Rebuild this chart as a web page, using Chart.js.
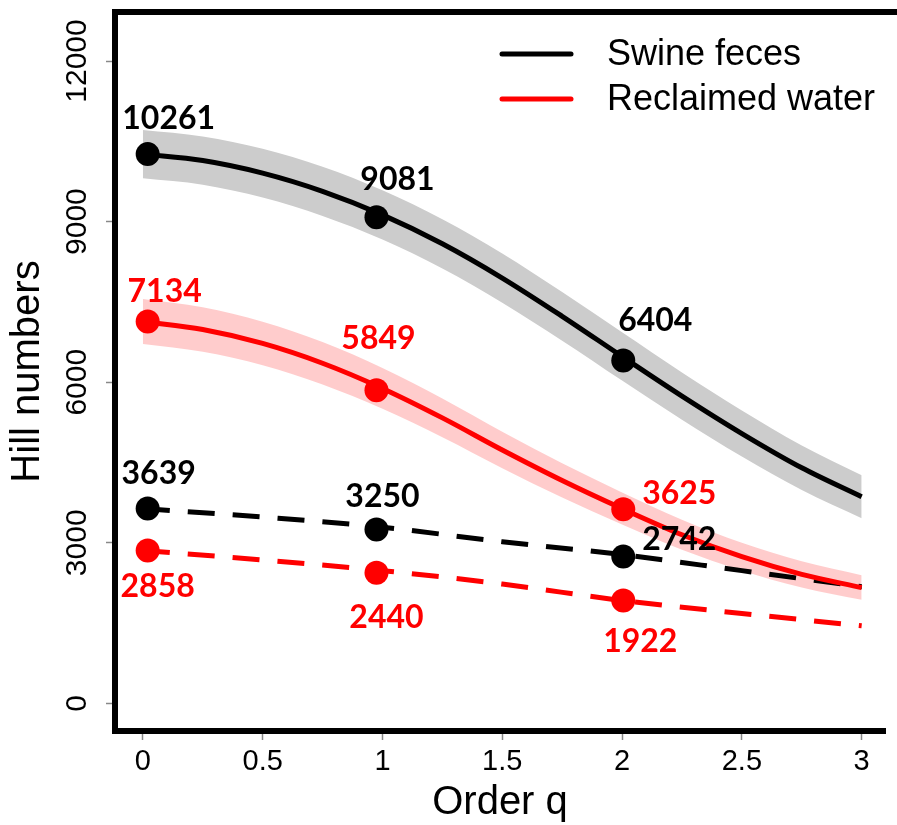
<!DOCTYPE html>
<html>
<head>
<meta charset="utf-8">
<title>Hill numbers</title>
<script src="https://cdn.jsdelivr.net/npm/chart.js@4/dist/chart.umd.min.js"></script>
<style>
	html, body { margin: 0; padding: 0; background: #fff; overflow: hidden; }
	#wrap { width: 897px; height: 825px; }
</style>
</head>
<body>
<div id="wrap"><canvas id="hill-chart" width="897" height="825"></canvas></div>
<script>
// order q grid of the estimated curves
const qGrid = [0, 0.25, 0.5, 0.75, 1, 1.25, 1.5, 1.75, 2, 2.25, 2.5, 2.75, 3]
const swineEst = [10261, 10141, 9906, 9566, 9126, 8586, 7946, 7231, 6481, 5741, 5041, 4401, 3860]
const swineUpper = [10711, 10591, 10361, 10026, 9586, 9046, 8406, 7686, 6931, 6181, 5471, 4816, 4260]
const swineLower = [9811, 9691, 9451, 9106, 8666, 8126, 7486, 6776, 6031, 5301, 4611, 3986, 3460]
const reclaimedEst = [7134, 6984, 6724, 6354, 5884, 5334, 4734, 4164, 3640, 3150, 2740, 2410, 2164]
const reclaimedUpper = [7554, 7399, 7129, 6749, 6264, 5694, 5074, 4484, 3940, 3430, 3000, 2655, 2394]
const reclaimedLower = [6714, 6569, 6319, 5959, 5504, 4974, 4394, 3844, 3340, 2870, 2480, 2165, 1934]

// observed (dashed) profiles
const qObs = [0, 0.5, 1, 1.5, 2, 2.5, 3]
const swineObsLine = [3639, 3480, 3290, 3020, 2780, 2480, 2180]
const reclaimedObsLine = [2858, 2680, 2480, 2230, 1922, 1680, 1450]

// labelled points
const pointQ = [0.02, 0.975, 2.005]
const swineEstPts = [10261, 9081, 6404]
const reclaimedEstPts = [7134, 5849, 3625]
const swineObsPts = [3639, 3250, 2742]
const reclaimedObsPts = [2858, 2440, 1922]

// axes
const xTickValues = [0, 0.5, 1, 1.5, 2, 2.5, 3]
const yTickValues = [0, 3000, 6000, 9000, 12000]
const seriesNames = ["Swine feces", "Reclaimed water"]
const xTitle = "Order q"
const yTitle = "Hill numbers"

const BLACK = "#000000"
const RED = "#ff0000"

function xy(xs, ys){
	return xs.map((x, i) => ({x: x, y: ys[i]}))
}

function band(ys, color, fill){
	return {
		type: "line",
		data: xy(qGrid, ys),
		borderWidth: 0,
		pointRadius: 0,
		backgroundColor: color,
		fill: fill,
		cubicInterpolationMode: "monotone",
		order: 10
	}
}

function curve(xs, ys, color, dash){
	return {
		type: "line",
		data: xy(xs, ys),
		borderColor: color,
		borderWidth: 5,
		borderDash: dash,
		borderCapStyle: "butt",
		pointRadius: 0,
		fill: false,
		cubicInterpolationMode: "monotone",
		order: 5
	}
}

function dots(ys, color, offsets){
	return {
		type: "scatter",
		data: xy(pointQ, ys),
		backgroundColor: color,
		borderColor: color,
		borderWidth: 0,
		pointRadius: 12,
		pointHoverRadius: 12,
		labelColor: color,
		labelOffsets: offsets,
		order: 0
	}
}

// text centre relative to each point (px)
const swineEstLabelPos = [[21, -37], [21, -39], [32, -41]]
const reclaimedEstLabelPos = [[17, -31], [2, -53], [56, -17]]
const swineObsLabelPos = [[11, -36], [6, -34], [56, -18]]
const reclaimedObsLabelPos = [[10, 35], [10, 44], [17, 40]]

const pointLabels = {
	id: "pointLabels",
	afterDatasetsDraw(chart){
		const ctx = chart.ctx
		ctx.save()
		ctx.font = "bold 32px Lato"
		ctx.textAlign = "center"
		ctx.textBaseline = "alphabetic"
		chart.data.datasets.forEach((ds, i) => {
			if(!ds.labelOffsets) return
			const meta = chart.getDatasetMeta(i)
			meta.data.forEach((el, j) => {
				const off = ds.labelOffsets[j]
				ctx.fillStyle = ds.labelColor
				ctx.fillText(String(ds.data[j].y), el.x + off[0], el.y + off[1] + 11.5)
			})
		})
		ctx.restore()
	}
}

const frameAndLegend = {
	id: "frameAndLegend",
	afterDraw(chart){
		const ctx = chart.ctx
		const area = chart.chartArea
		ctx.save()
		//top edge of the box (right edge is off the picture)
		ctx.strokeStyle = BLACK
		ctx.lineWidth = 6
		ctx.beginPath()
		ctx.moveTo(area.left - 3, area.top)
		ctx.lineTo(chart.width, area.top)
		ctx.stroke()

		//legend
		const rows = [[seriesNames[0], BLACK, 55], [seriesNames[1], RED, 100]]
		ctx.font = "36px 'Liberation Sans'"
		ctx.textBaseline = "middle"
		ctx.textAlign = "left"
		rows.forEach(r => {
			ctx.strokeStyle = r[1]
			ctx.lineWidth = 5
			ctx.lineCap = "round"
			ctx.beginPath()
			ctx.moveTo(502, r[2] - 1)
			ctx.lineTo(571, r[2] - 1)
			ctx.stroke()
			ctx.fillStyle = BLACK
			ctx.fillText(r[0], 607, r[2])
		})
		ctx.restore()
	}
}

new Chart("hill-chart", {
	data: {
		datasets: [
			band(swineUpper, "#cccccc", "+1"),
			band(swineLower, "#cccccc", false),
			band(reclaimedUpper, "rgba(255,0,0,0.2)", "+1"),
			band(reclaimedLower, "rgba(255,0,0,0.2)", false),
			curve(qGrid, swineEst, BLACK, []),
			curve(qGrid, reclaimedEst, RED, []),
			curve(qObs, swineObsLine, BLACK, [27, 18]),
			curve(qObs, reclaimedObsLine, RED, [27, 18]),
			dots(swineEstPts, BLACK, swineEstLabelPos),
			dots(reclaimedEstPts, RED, reclaimedEstLabelPos),
			dots(swineObsPts, BLACK, swineObsLabelPos),
			dots(reclaimedObsPts, RED, reclaimedObsLabelPos)
		]
	},
	options: {
		responsive: false,
		animation: false,
		events: [],
		layout: {padding: {top: 9.5, right: 0, bottom: 0, left: 0}},
		plugins: {
			legend: {display: false},
			tooltip: {enabled: false}
		},
		scales: {
			x: {
				type: "linear",
				min: -0.1163,
				max: 3.0974,
				afterBuildTicks: s => { s.ticks = xTickValues.map(v => ({value: v})) },
				afterFit: s => { s.height = 94 },
				border: {display: true, width: 6, color: BLACK},
				grid: {drawOnChartArea: false, drawTicks: true, tickLength: 9, tickColor: "#888", tickWidth: 1.5},
				ticks: {
					padding: 5,
					color: BLACK,
					font: {family: "'Liberation Sans'", size: 29},
					maxRotation: 0,
					autoSkip: false,
					callback: v => String(v)
				},
				title: {
					display: true,
					text: xTitle,
					color: BLACK,
					font: {family: "'Liberation Sans'", size: 40, lineHeight: 1},
					padding: {top: 0, bottom: 2}
				}
			},
			y: {
				type: "linear",
				min: -515.7,
				max: 12915.8,
				afterBuildTicks: s => { s.ticks = yTickValues.map(v => ({value: v})) },
				afterFit: s => { s.width = 115 },
				border: {display: true, width: 6, color: BLACK},
				grid: {drawOnChartArea: false, drawTicks: true, tickLength: 9, tickColor: "#888", tickWidth: 1.5},
				ticks: {
					minRotation: 90,
					maxRotation: 90,
					crossAlign: "center",
					padding: -13,
					autoSkip: false,
					color: BLACK,
					font: {family: "'Liberation Sans'", size: 30},
					callback: v => String(v)
				},
				title: {
					display: true,
					text: yTitle,
					color: BLACK,
					font: {family: "'Liberation Sans'", size: 40, lineHeight: 1},
					padding: {top: 8, bottom: 0}
				}
			}
		}
	},
	plugins: [pointLabels, frameAndLegend]
})
</script>
</body>
</html>
